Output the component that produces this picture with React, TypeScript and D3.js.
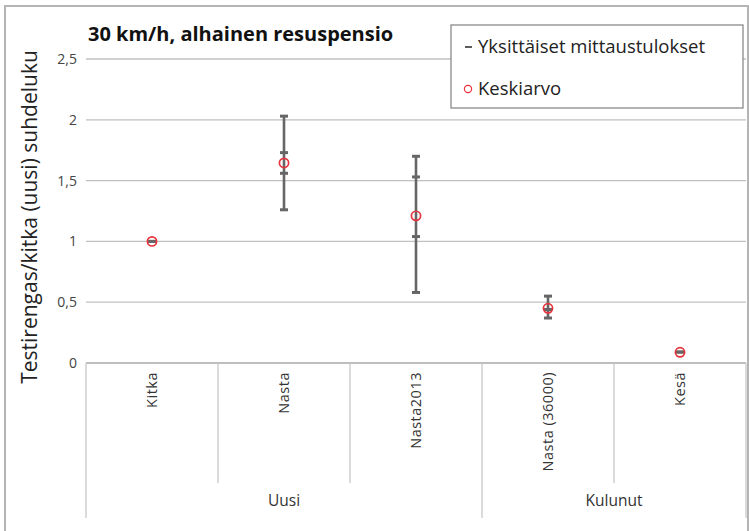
import React from "react";
import * as d3 from "d3";

const categories = ["Kitka", "Nasta", "Nasta2013", "Nasta (36000)", "Kesä"];
const groups = [
  { name: "Uusi", from: 0, to: 3 },
  { name: "Kulunut", from: 3, to: 5 },
];
const individual: number[][] = [
  [1.0, 1.0],
  [2.03, 1.73, 1.56, 1.26],
  [1.7, 1.53, 1.04, 0.58],
  [0.55, 0.44, 0.37],
  [0.09, 0.09],
];
const means = [1.0, 1.645, 1.21, 0.45, 0.088];
const yTicks = [0, 0.5, 1, 1.5, 2, 2.5];
const title = "30 km/h, alhainen resuspensio";
const yTitle = "Testirengas/kitka (uusi) suhdeluku";
const legendItems = ["Yksittäiset mittaustulokset", "Keskiarvo"];

const W = 749;
const H = 531;
const plot = { left: 86, right: 746, top: 59, bottom: 363 };
const FONT = "'Open Sans', 'Noto Sans', sans-serif";

export default function App() {
  const x = d3
    .scaleBand<number>()
    .domain(d3.range(categories.length))
    .range([plot.left, plot.right])
    .padding(0);
  const y = d3.scaleLinear().domain([0, 2.5]).range([plot.bottom, plot.top]);
  const fmt = (v: number) => String(v).replace(".", ",");
  const bw = x.bandwidth();
  const grey = "#666666";
  const red = "#e8323c";

  const longDiv = new Set<number>();
  groups.forEach((g) => {
    longDiv.add(g.from);
    longDiv.add(g.to);
  });

  return (
    <svg
      width={W}
      height={H}
      style={{ position: "absolute", left: 0, top: 0, background: "#fff" }}
      fontFamily={FONT}
    >
      <rect x={0} y={0} width={W} height={H} fill="#fff" />
      {/* outer frame */}
      <path
        d={`M5,${H + 2} L5,6 L748,6 L748,${H + 2}`}
        fill="none"
        stroke="#b4b4b4"
        strokeWidth={2}
      />
      {/* gridlines */}
      {yTicks.map((t) => (
        <line
          key={t}
          x1={plot.left}
          x2={plot.right}
          y1={y(t)}
          y2={y(t)}
          stroke={t === 0 ? "#a8a8a8" : "#c0c0c0"}
          strokeWidth={1.3}
        />
      ))}
      {yTicks.map((t) => (
        <text
          key={"l" + t}
          x={77}
          y={y(t)}
          dy="0.35em"
          textAnchor="end"
          fontSize={14}
          fill="#444"
        >
          {fmt(t)}
        </text>
      ))}
      {/* category dividers */}
      {d3.range(categories.length + 1).map((i) => {
        const xx = i < categories.length ? (x(i) as number) : plot.right;
        return (
          <line
            key={"d" + i}
            x1={xx}
            x2={xx}
            y1={plot.bottom}
            y2={longDiv.has(i) ? 518 : 483}
            stroke="#c8c8c8"
            strokeWidth={1.3}
          />
        );
      })}
      {categories.map((c, i) => (
        <text
          key={c}
          transform={`translate(${(x(i) as number) + bw / 2},372) rotate(-90)`}
          textAnchor="end"
          dy="0.35em"
          fontSize={14.5}
          letterSpacing={0.5}
          fill="#333"
        >
          {c}
        </text>
      ))}
      {groups.map((g) => (
        <text
          key={g.name}
          x={((x(g.from) as number) + (g.to < categories.length ? (x(g.to) as number) : plot.right)) / 2}
          y={506}
          textAnchor="middle"
          fontSize={15.5}
          fill="#333"
        >
          {g.name}
        </text>
      ))}
      {/* individual measurements */}
      {individual.map((vals, i) => {
        const cx = (x(i) as number) + bw / 2;
        const [mn, mx] = d3.extent(vals) as [number, number];
        return (
          <g key={"e" + i}>
            <line x1={cx} x2={cx} y1={y(mn)} y2={y(mx)} stroke={grey} strokeWidth={2.6} />
            {vals.map((v, j) => (
              <line
                key={j}
                x1={cx - 4}
                x2={cx + 4}
                y1={y(v)}
                y2={y(v)}
                stroke={grey}
                strokeWidth={3}
              />
            ))}
          </g>
        );
      })}
      {means.map((m, i) => (
        <circle
          key={"m" + i}
          cx={(x(i) as number) + bw / 2}
          cy={y(m)}
          r={4.6}
          fill="none"
          stroke={red}
          strokeWidth={1.7}
        />
      ))}
      {/* title */}
      <text x={88} y={41} fontSize={20} fontWeight="bold" fill="#111">
        {title}
      </text>
      {/* y title */}
      <text
        transform={`translate(37,217) rotate(-90)`}
        textAnchor="middle"
        fontSize={21}
        fill="#222"
      >
        {yTitle}
      </text>
      {/* legend */}
      <rect x={451} y={25} width={292} height={83} fill="#fff" stroke="#8a8a8a" strokeWidth={1.3} />
      <line x1={465} x2={472} y1={47} y2={47} stroke="#333" strokeWidth={1.6} />
      <text x={478} y={47} dy="0.35em" fontSize={18.5} fill="#222">
        {legendItems[0]}
      </text>
      <circle cx={468} cy={89} r={3.6} fill="none" stroke={red} strokeWidth={1.2} />
      <text x={478} y={89} dy="0.35em" fontSize={18.5} fill="#222">
        {legendItems[1]}
      </text>
    </svg>
  );
}
